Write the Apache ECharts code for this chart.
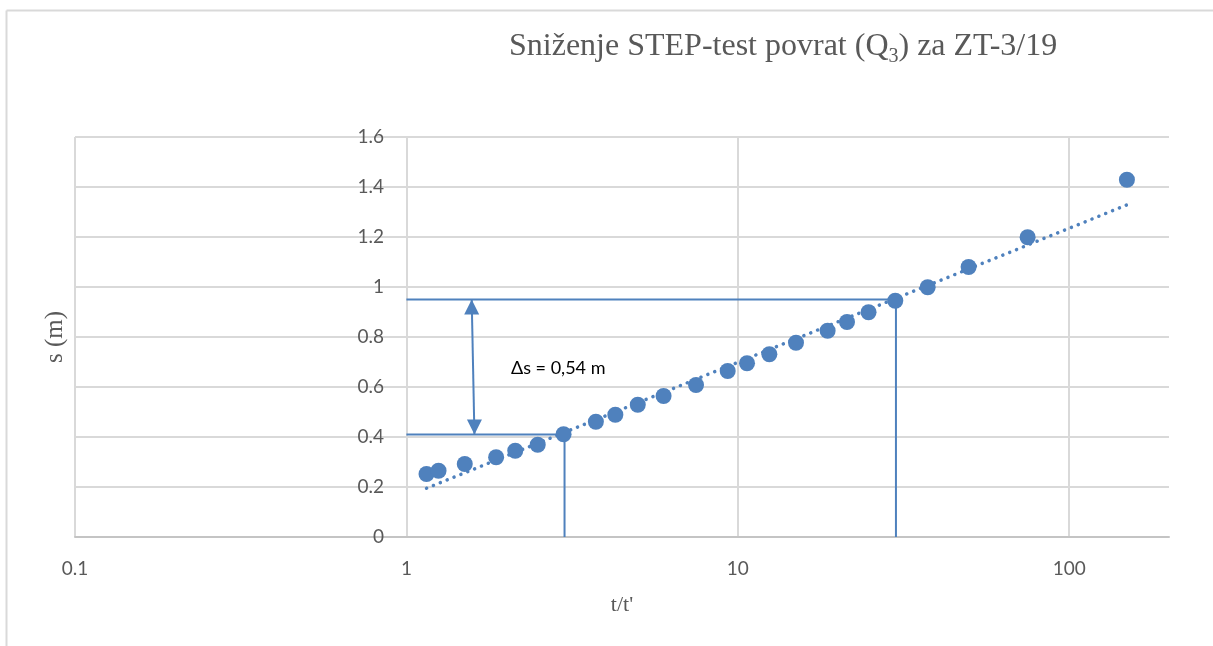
<!DOCTYPE html>
<html><head><meta charset="utf-8">
<script src="https://cdn.jsdelivr.net/npm/echarts@6/dist/echarts.min.js"></script>
<style>html,body{margin:0;padding:0;background:#fff}#c{width:1213px;height:646px}</style>
</head><body><div id="c"></div>
<script>
// ---- data ----
const ratioTT = [1.15, 1.25, 1.5, 1.865, 2.13, 2.49, 2.98, 3.73, 4.27, 4.99, 5.97, 7.48, 9.32, 10.66, 12.45, 14.98, 18.66, 21.35, 24.8, 29.86, 37.4, 49.7, 74.9, 149.3];
const drawdown = [0.252, 0.265, 0.292, 0.319, 0.345, 0.369, 0.411, 0.461, 0.489, 0.529, 0.564, 0.608, 0.664, 0.695, 0.731, 0.777, 0.825, 0.86, 0.899, 0.945, 0.999, 1.08, 1.199, 1.429];
const trendX = [1.15, 149];
const trendY = [0.195, 1.328];
const upperGuide = [[1, 0.95], [30, 0.95], [30, 0]];
const lowerGuide = [[1, 0.41], [3, 0.41], [3, 0]];
const deltaArrow = [[1.574, 0.95], [1.604, 0.41]];
const deltaLabel = 'Δs = 0,54 m';
const xRange = [0.1, 200];
const yRange = [0, 1.6];
const yStep = 0.2;

const blue = '#4f81bd';
const grey = '#595959';
const chart = echarts.init(document.getElementById('c'));
const scatterData = ratioTT.map((x, i) => [x, drawdown[i]]);
const trendData = trendX.map((x, i) => [x, trendY[i]]);

chart.setOption({
  animation: false,
  title: {
    text: '{a|Sniženje STEP-test povrat (Q}{b|3}{a|) za ZT-3/19}',
    left: 504, top: 22,
    textStyle: {
      rich: {
        a: { fontFamily: 'Liberation Serif', fontSize: 32, fontWeight: 'normal', color: grey, lineHeight: 40, verticalAlign: 'middle' },
        b: { fontFamily: 'Liberation Serif', fontSize: 20, fontWeight: 'normal', color: grey, lineHeight: 20, verticalAlign: 'middle', padding: [20, 0, 0, 0] }
      }
    }
  },
  grid: { left: 75, right: 44, top: 137, bottom: 109 },
  xAxis: {
    type: 'log', logBase: 10, min: xRange[0], max: xRange[1],
    name: "t/t'", nameLocation: 'middle', nameGap: 57,
    nameTextStyle: { fontFamily: 'Liberation Serif', fontSize: 22, color: grey },
    axisLine: { show: true, lineStyle: { color: '#c4c4c4', width: 2 } },
    axisTick: { show: false },
    axisLabel: { margin: 22, fontFamily: 'Lato', fontSize: 19, color: grey, showMaxLabel: false },
    splitLine: { show: true, showMaxLine: false, lineStyle: { color: '#d9d9d9', width: 2 } }
  },
  yAxis: {
    type: 'value', min: yRange[0], max: yRange[1], interval: yStep,
    offset: -332,
    name: 's (m)', nameLocation: 'middle', nameGap: 339,
    nameTextStyle: { fontFamily: 'Liberation Serif', fontSize: 25, color: grey },
    axisLine: { show: true, lineStyle: { color: '#d9d9d9', width: 2 } },
    axisTick: { show: false },
    axisLabel: { margin: 23, fontFamily: 'Lato', fontSize: 19, color: grey },
    splitLine: { show: true, lineStyle: { color: '#d9d9d9', width: 2 } }
  },
  graphic: [
    { type: 'line', shape: { x1: 6.5, y1: 10.5, x2: 1213, y2: 10.5 }, style: { stroke: '#d9d9d9', lineWidth: 2 } },
    { type: 'line', shape: { x1: 6.5, y1: 10.5, x2: 6.5, y2: 646 }, style: { stroke: '#d9d9d9', lineWidth: 2 } },
    { type: 'text', left: 511, top: 359, style: { text: deltaLabel, fontFamily: 'Lato', fontSize: 18, fill: '#000' } }
  ],
  series: [
    {
      type: 'line', data: upperGuide, symbol: 'none', silent: true,
      lineStyle: { color: blue, width: 2 }, z: 3
    },
    {
      type: 'line', data: lowerGuide, symbol: 'none', silent: true,
      lineStyle: { color: blue, width: 2 }, z: 3
    },
    {
      type: 'line', data: deltaArrow, symbol: 'none', silent: true,
      lineStyle: { color: blue, width: 2 }, z: 3
    },
    {
      type: 'scatter', silent: true, z: 3,
      itemStyle: { color: blue, opacity: 1 },
      data: [
        { value: deltaArrow[0], symbol: 'triangle', symbolSize: [15, 15], symbolRotate: 0, symbolOffset: [0, 7.5] },
        { value: deltaArrow[1], symbol: 'triangle', symbolSize: [15, 15], symbolRotate: 180, symbolOffset: [0, -7.5] }
      ]
    },
    {
      type: 'line', data: trendData, symbol: 'none', silent: true,
      lineStyle: { color: blue, width: 3.5, type: [0.1, 7.3], cap: 'round' }, z: 4
    },
    {
      type: 'scatter', data: scatterData, symbol: 'circle', symbolSize: 16,
      itemStyle: { color: blue, opacity: 1 }, z: 5
    }
  ]
});
</script>
</body></html>
